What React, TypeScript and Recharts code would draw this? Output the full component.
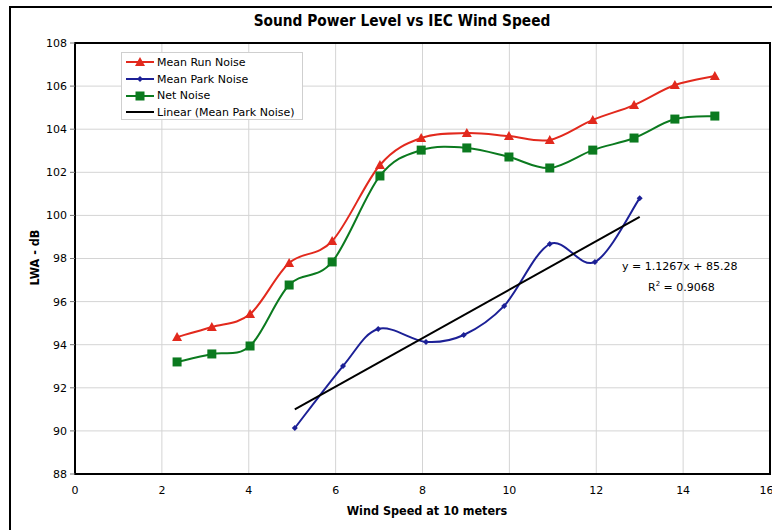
import React from 'react';
import { LineChart, Line, XAxis, YAxis, CartesianGrid, ReferenceArea } from 'recharts';

const windX = [2.35, 3.15, 4.03, 4.93, 5.92, 7.02, 7.97, 9.02, 9.99, 10.93, 11.92, 12.87, 13.81, 14.73];
const runNoise = [94.36, 94.82, 95.42, 97.79, 98.81, 102.34, 103.59, 103.82, 103.68, 103.5, 104.43, 105.12, 106.05, 106.47];
const netNoise = [93.2, 93.57, 93.94, 96.77, 97.84, 101.83, 103.03, 103.13, 102.71, 102.2, 103.03, 103.59, 104.47, 104.61];
const parkX = [5.06, 6.17, 6.98, 8.08, 8.95, 9.88, 10.93, 11.97, 13.0];
const parkNoise = [90.13, 93.01, 94.73, 94.13, 94.45, 95.8, 98.67, 97.84, 100.8];
const trendX = [5.06, 13.0];
const trendY = [91.0, 99.93];
const xTicks = [0, 2, 4, 6, 8, 10, 12, 14, 16];
const yTicks = [88, 90, 92, 94, 96, 98, 100, 102, 104, 106, 108];
const seriesNames = ['Mean Run Noise', 'Mean Park Noise', 'Net Noise', 'Linear (Mean Park Noise)'];

const runData = windX.map((x, i) => ({ x, y: runNoise[i] }));
const netData = windX.map((x, i) => ({ x, y: netNoise[i] }));
const parkData = parkX.map((x, i) => ({ x, y: parkNoise[i] }));
const trendData = trendX.map((x, i) => ({ x, y: trendY[i] }));

const RED = '#e2291d';
const BLUE = '#1c2096';
const GREEN = '#0b7a1f';

// Excel-like smoothing (Catmull-Rom style Bezier)
const smoothCurve = (context: any) => {
  let pts: number[][] = [];
  return {
    areaStart() {},
    areaEnd() {},
    lineStart() { pts = []; },
    point(x: number, y: number) { pts.push([+x, +y]); },
    lineEnd() {
      const n = pts.length;
      if (!n) return;
      context.moveTo(pts[0][0], pts[0][1]);
      for (let i = 0; i < n - 1; i++) {
        const p0 = pts[i - 1] || pts[i];
        const p1 = pts[i];
        const p2 = pts[i + 1];
        const p3 = pts[i + 2] || pts[i + 1];
        context.bezierCurveTo(
          p1[0] + (p2[0] - p0[0]) / 6, p1[1] + (p2[1] - p0[1]) / 6,
          p2[0] - (p3[0] - p1[0]) / 6, p2[1] - (p3[1] - p1[1]) / 6,
          p2[0], p2[1]
        );
      }
    },
  };
};

const Tri = ({ cx, cy, color }: any) => (
  <polygon points={`${cx},${cy - 5} ${cx + 5},${cy + 4} ${cx - 5},${cy + 4}`} fill={color} />
);
const Sq = ({ cx, cy, color }: any) => (
  <rect x={cx - 4.5} y={cy - 4.5} width={9} height={9} fill={color} />
);
const Dia = ({ cx, cy, color }: any) => (
  <polygon points={`${cx},${cy - 3} ${cx + 3},${cy} ${cx},${cy + 3} ${cx - 3},${cy}`} fill={color} />
);

const markerFor = (key: string, cx: number, cy: number, color: string) => {
  if (key === 'run') return <Tri cx={cx} cy={cy} color={color} />;
  if (key === 'net') return <Sq cx={cx} cy={cy} color={color} />;
  if (key === 'park') return <Dia cx={cx} cy={cy} color={color} />;
  return null;
};

const legendItems = [
  { value: seriesNames[0], color: RED, key: 'run' },
  { value: seriesNames[1], color: BLUE, key: 'park' },
  { value: seriesNames[2], color: GREEN, key: 'net' },
  { value: seriesNames[3], color: '#000', key: 'trend' },
];

const LegendBox = () => (
  <div style={{ position: 'absolute', left: 121, top: 52, width: 182, height: 68, background: '#fff', border: '1px solid #cfcfcf', boxSizing: 'border-box', paddingTop: 1 }}>
    {legendItems.map((it, i) => (
      <div key={i} style={{ display: 'flex', alignItems: 'center', height: 16.7, fontFamily: 'DejaVu Sans, Verdana, sans-serif', fontSize: 11, color: '#000', whiteSpace: 'nowrap' }}>
        <svg width={30} height={12} style={{ marginLeft: 3, marginRight: 2 }}>
          <line x1={1} y1={6} x2={29} y2={6} stroke={it.color} strokeWidth={2} />
          {markerFor(it.key, 15, 6, it.color)}
        </svg>
        <span>{it.value}</span>
      </div>
    ))}
  </div>
);

const dotRenderer = (key: string, color: string) => (p: any) => (
  <g key={`${key}-${p.index}`}>{markerFor(key, p.cx, p.cy, color)}</g>
);

const txt = { fontFamily: 'DejaVu Sans, Verdana, sans-serif', fontSize: 11, color: '#000', whiteSpace: 'nowrap' as const };
const boldTxt = { fontFamily: '"DejaVu Sans Condensed", "DejaVu Sans", sans-serif', fontStretch: 'condensed', fontWeight: 'bold' as const, color: '#000', whiteSpace: 'nowrap' as const };

export default function App() {
  return (
    <div style={{ position: 'absolute', left: 0, top: 0, width: 772, height: 530, overflow: 'hidden', background: '#fff' }}>
      <div style={{ position: 'absolute', left: 9, top: 6, width: 820, height: 620, border: '2px solid #000' }} />
      <div style={{ position: 'absolute', left: 0, top: 0 }}>
        <LineChart width={772} height={530} margin={{ top: 43, right: 2, bottom: 0, left: 0 }}>
          <CartesianGrid stroke="#d4d4d4" strokeWidth={1} />
          <XAxis
            type="number"
            dataKey="x"
            domain={[0, 16]}
            ticks={xTicks}
            allowDataOverflow
            height={56}
            tickLine={false}
            axisLine={false}
            tickSize={6}
            tickMargin={6}
            tick={{ fontSize: 11, fill: '#000', fontFamily: 'DejaVu Sans, Verdana, sans-serif' }}
          />
          <YAxis
            type="number"
            domain={[88, 108]}
            ticks={yTicks}
            allowDataOverflow
            width={75}
            axisLine={false}
            tickLine={{ stroke: '#777' }}
            tickSize={5}
            tickMargin={3}
            tick={{ fontSize: 11, fill: '#000', fontFamily: 'DejaVu Sans, Verdana, sans-serif' }}
          />
          <ReferenceArea x1={0} x2={16} y1={88} y2={108} fill="none" stroke="#000" strokeWidth={2} strokeOpacity={1} />
          <Line data={runData} dataKey="y" name={seriesNames[0]} type={smoothCurve as any} stroke={RED} strokeWidth={2} dot={dotRenderer('run', RED)} activeDot={false} isAnimationActive={false} />
          <Line data={netData} dataKey="y" name={seriesNames[2]} type={smoothCurve as any} stroke={GREEN} strokeWidth={2} dot={dotRenderer('net', GREEN)} activeDot={false} isAnimationActive={false} />
          <Line data={parkData} dataKey="y" name={seriesNames[1]} type={smoothCurve as any} stroke={BLUE} strokeWidth={2} dot={dotRenderer('park', BLUE)} activeDot={false} isAnimationActive={false} />
          <Line data={trendData} dataKey="y" name={seriesNames[3]} type="linear" stroke="#000" strokeWidth={2} dot={false} activeDot={false} isAnimationActive={false} />
        </LineChart>
      </div>
      <LegendBox />
      <div style={{ ...boldTxt, position: 'absolute', left: 200, width: 404, top: 12, textAlign: 'center', fontSize: 15.3 }}>
        Sound Power Level vs IEC Wind Speed
      </div>
      <div style={{ ...boldTxt, position: 'absolute', left: 277, width: 300, top: 503, textAlign: 'center', fontSize: 12.5 }}>
        Wind Speed at 10 meters
      </div>
      <div style={{ ...boldTxt, position: 'absolute', left: 34 - 50, width: 100, top: 250, textAlign: 'center', transform: 'rotate(-90deg)', fontSize: 12.5 }}>
        LWA - dB
      </div>
      <div style={{ ...txt, position: 'absolute', left: 622, top: 260 }}>
        y = 1.1267x + 85.28
      </div>
      <div style={{ ...txt, position: 'absolute', left: 648, top: 280 }}>
        R<sup style={{ fontSize: 7 }}>2</sup> = 0.9068
      </div>
    </div>
  );
}
